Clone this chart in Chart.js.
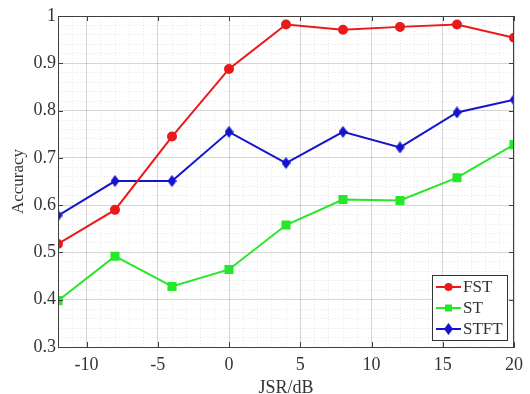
<!DOCTYPE html>
<html>
<head>
<meta charset="utf-8">
<script src="https://cdn.jsdelivr.net/npm/chart.js@4.4.1/dist/chart.umd.min.js"></script>
<style>
  html, body { margin: 0; padding: 0; background: #fff; }
</style>
</head>
<body>
<canvas id="chart" width="530" height="394"></canvas>
<script>
// data
const jsr = [-12, -8, -4, 0, 4, 8, 12, 16, 20];
const fstAcc = [0.518, 0.590, 0.745, 0.888, 0.982, 0.971, 0.977, 0.982, 0.954];
const stAcc = [0.398, 0.492, 0.428, 0.464, 0.558, 0.612, 0.610, 0.658, 0.728];
const stftAcc = [0.578, 0.651, 0.651, 0.755, 0.689, 0.755, 0.722, 0.796, 0.823];
const seriesNames = ['FST', 'ST', 'STFT'];

const RED = 'rgb(235,25,25)';
const GREEN = 'rgb(40,230,40)';
const BLUE = 'rgb(20,20,205)';
const FONT = '"Liberation Serif", "Times New Roman", serif';
const TEXT = '#333';

// tall diamond marker like matlab's 'd'
function diamondMarker(color) {
  const c = document.createElement('canvas');
  c.width = 9; c.height = 12;
  const g = c.getContext('2d');
  g.fillStyle = color;
  g.beginPath();
  g.moveTo(4.5, 0); g.lineTo(9, 6); g.lineTo(4.5, 12); g.lineTo(0, 6);
  g.closePath();
  g.fill();
  return c;
}
const diamond = diamondMarker(BLUE);

function pts(ys) {
  return jsr.map((x, i) => ({ x: x, y: ys[i] }));
}

function isMajorX(v) { return Math.abs(v % 5) < 1e-9; }
function isMajorY(v) { return Math.abs(v * 10 - Math.round(v * 10)) < 1e-6; }

// box, inward ticks and legend drawn like the matlab figure
const boxPlugin = {
  id: 'box',
  afterDraw(chart) {
    const { ctx, chartArea: a, scales } = chart;
    ctx.save();
    ctx.strokeStyle = '#404040';
    ctx.lineWidth = 1;
    ctx.strokeRect(a.left + 0.5, a.top + 0.5, a.right - a.left - 1, a.bottom - a.top);
    ctx.beginPath();
    scales.x.ticks.forEach(t => {
      if (!isMajorX(t.value)) return;
      const px = Math.round(scales.x.getPixelForValue(t.value)) + 0.5;
      ctx.moveTo(px, a.bottom); ctx.lineTo(px, a.bottom - 5);
      ctx.moveTo(px, a.top); ctx.lineTo(px, a.top + 5);
    });
    scales.y.ticks.forEach(t => {
      if (!isMajorY(t.value)) return;
      const py = Math.round(scales.y.getPixelForValue(t.value)) + 0.5;
      ctx.moveTo(a.left, py); ctx.lineTo(a.left + 5, py);
      ctx.moveTo(a.right, py); ctx.lineTo(a.right - 5, py);
    });
    ctx.stroke();

    // legend
    const w = 75, h = 65;
    const bx = a.right - 7 - w, by = a.bottom - 7 - h;
    ctx.fillStyle = '#fff';
    ctx.fillRect(bx, by, w, h);
    ctx.strokeStyle = '#333';
    ctx.strokeRect(bx + 0.5, by + 0.5, w, h);
    ctx.font = '17px ' + FONT;
    ctx.textBaseline = 'middle';
    chart.data.datasets.forEach((ds, i) => {
      const cy = by + 12 + i * 21;
      const x0 = bx + 4, x1 = bx + 29, xm = (x0 + x1) / 2;
      ctx.strokeStyle = ds.borderColor;
      ctx.lineWidth = 2;
      ctx.beginPath(); ctx.moveTo(x0, cy); ctx.lineTo(x1, cy); ctx.stroke();
      ctx.fillStyle = ds.borderColor;
      if (ds.pointStyle === 'circle') {
        ctx.beginPath(); ctx.arc(xm, cy, 4, 0, Math.PI * 2); ctx.fill();
      } else if (ds.pointStyle === 'rect') {
        ctx.fillRect(xm - 3.5, cy - 3.5, 7, 7);
      } else {
        ctx.drawImage(ds.pointStyle, xm - 4.5, cy - 6);
      }
      ctx.fillStyle = TEXT;
      ctx.fillText(ds.label, x1 + 2, cy + 1);
    });
    ctx.restore();
  }
};

new Chart(document.getElementById('chart'), {
  type: 'line',
  data: {
    datasets: [
      { label: seriesNames[0], data: pts(fstAcc), borderColor: RED, backgroundColor: RED,
        pointStyle: 'circle', pointRadius: 4, borderWidth: 2 },
      { label: seriesNames[1], data: pts(stAcc), borderColor: GREEN, backgroundColor: GREEN,
        pointStyle: 'rect', pointRadius: 5, borderWidth: 2 },
      { label: seriesNames[2], data: pts(stftAcc), borderColor: BLUE, backgroundColor: BLUE,
        pointStyle: diamond, pointRadius: 5, borderWidth: 2 }
    ]
  },
  options: {
    responsive: false,
    animation: false,
    layout: { padding: { top: 16, right: 9, left: 0, bottom: 0 } },
    plugins: { legend: { display: false }, tooltip: { enabled: false } },
    elements: { line: { tension: 0 }, point: { borderWidth: 0 } },
    scales: {
      x: {
        type: 'linear', min: -12, max: 20,
        afterFit: s => { s.height = 47; },
        ticks: {
          stepSize: 1, autoSkip: false, maxTicksLimit: 100, maxRotation: 0,
          padding: 7, color: TEXT, font: { family: FONT, size: 18 },
          callback: v => isMajorX(v) ? String(v) : ''
        },
        grid: {
          drawTicks: false,
          color: c => c.tick && isMajorX(c.tick.value) ? 'rgba(0,0,0,0.16)' : 'rgba(0,0,0,0.09)'
        },
        border: {
          color: '#404040', width: 1,
          dash: c => (c.tick && !isMajorX(c.tick.value)) ? [1, 2] : []
        },
        title: { display: true, text: 'JSR/dB', color: TEXT, padding: { top: 0, bottom: 0 },
          font: { family: FONT, size: 18, lineHeight: 0.6 } }
      },
      y: {
        min: 0.3, max: 1,
        afterFit: s => { s.width = 58; },
        ticks: {
          stepSize: 0.02, autoSkip: false, maxTicksLimit: 100,
          padding: 2, color: TEXT, font: { family: FONT, size: 18 },
          callback: v => isMajorY(v) ? String(Math.round(v * 10) / 10) : ''
        },
        grid: {
          drawTicks: false,
          color: c => c.tick && isMajorY(c.tick.value) ? 'rgba(0,0,0,0.16)' : 'rgba(0,0,0,0.09)'
        },
        border: {
          color: '#404040', width: 1,
          dash: c => (c.tick && !isMajorY(c.tick.value)) ? [1, 2] : []
        },
        title: { display: true, text: 'Accuracy', color: TEXT, padding: { top: 8, bottom: 0 },
          font: { family: FONT, size: 17 } }
      }
    }
  },
  plugins: [boxPlugin]
});
</script>
</body>
</html>
